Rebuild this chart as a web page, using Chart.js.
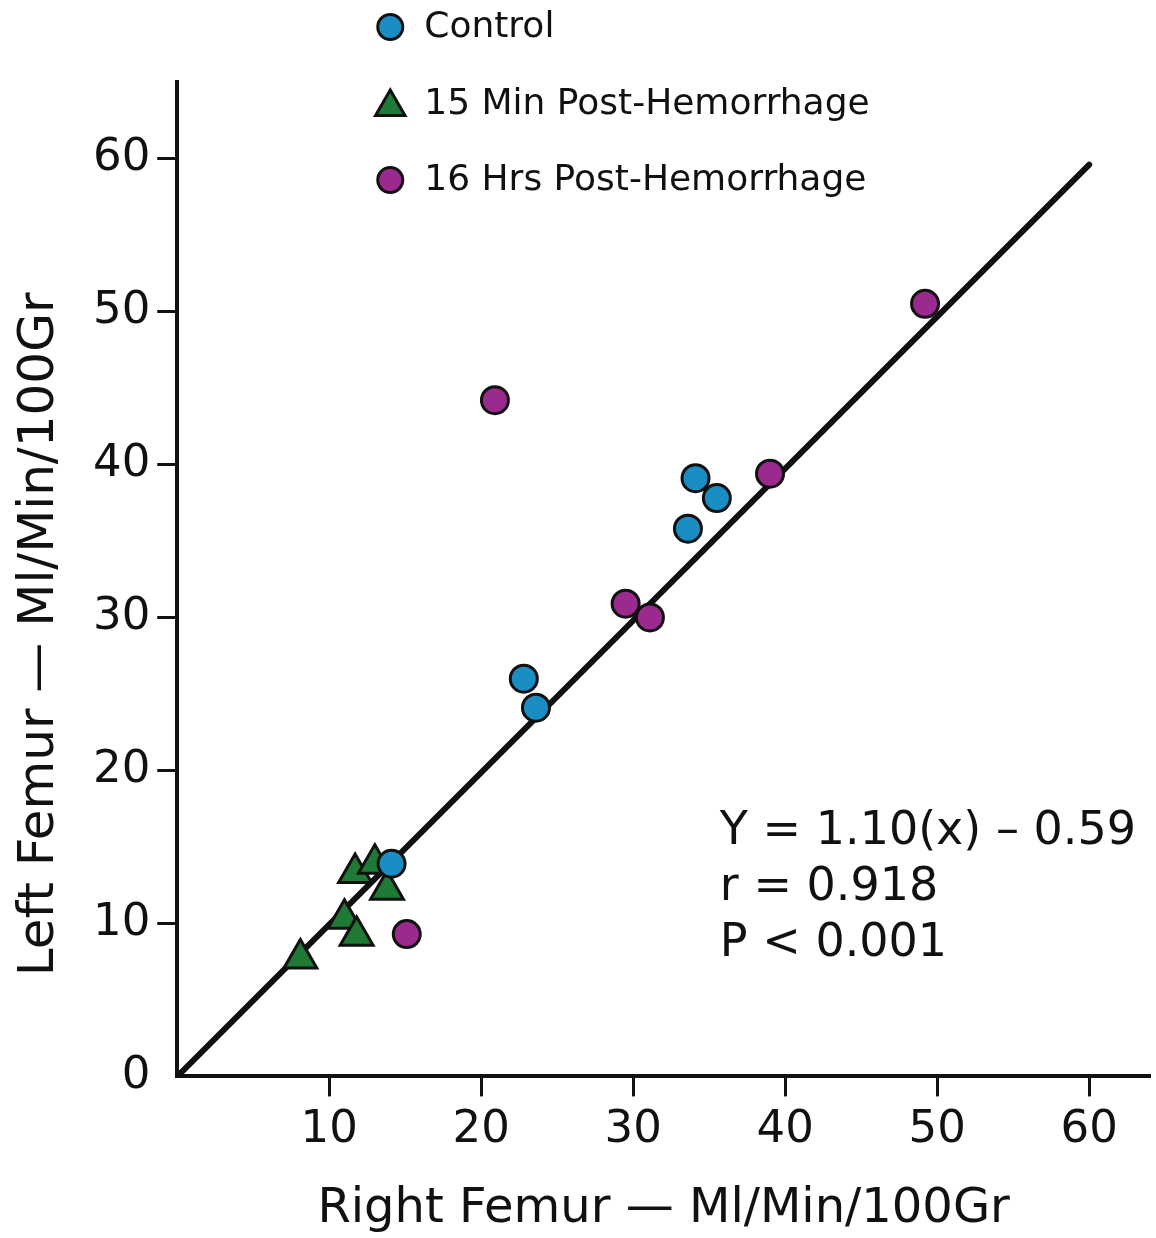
<!DOCTYPE html>
<html>
<head>
<meta charset="utf-8">
<script src="https://cdn.jsdelivr.net/npm/chart.js@4.4.1/dist/chart.umd.min.js"></script>
<style>
  html, body { margin: 0; padding: 0; background: #fff; }
  #wrap { width: 1156px; height: 1238px; }
</style>
</head>
<body>
<div id="wrap"><canvas id="femur" width="1156" height="1238"></canvas></div>
<script>
// values (Right femur, Left femur) in Ml/Min/100Gr
const controlX = [14.1, 22.8, 23.6, 33.6, 34.1, 35.5];
const controlY = [13.9, 26.0, 24.1, 35.8, 39.1, 37.8];

const min15X = [11.7, 13.0, 13.8, 11.0, 11.8, 8.1];
const min15Y = [13.3, 13.9, 12.2, 10.3, 9.2, 7.7];

const hrs16X = [20.9, 49.2, 39.0, 29.5, 31.1, 15.1];
const hrs16Y = [44.2, 50.5, 39.4, 30.9, 30.0, 9.3];

const fitX = [0, 60];
const fitY = [0, 59.6];

const xTicks = [10, 20, 30, 40, 50, 60];
const yTicks = [0, 10, 20, 30, 40, 50, 60];

const seriesNames = ['Control', '15 Min Post-Hemorrhage', '16 Hrs Post-Hemorrhage'];
const xTitle = 'Right Femur \u2014 Ml/Min/100Gr';
const yTitle = 'Left Femur \u2014 Ml/Min/100Gr';
const statLines = ['Y = 1.10(x) \u2013 0.59', 'r = 0.918', 'P < 0.001'];
const statAnchor = { x: 35.7, y: 16.0 };

const BLUE = '#1a8ec3';
const GREEN = '#1f7a35';
const PURPLE = '#9b2a8e';
const INK = '#111';
const FONT = "'DejaVu Sans', sans-serif";

const toPoints = (xs, ys) => xs.map((x, i) => ({ x: x, y: ys[i] }));

Chart.defaults.font.family = FONT;
Chart.defaults.color = INK;

// hand-placed legend above the plot, like the original figure
const legendPlugin = {
  id: 'figLegend',
  afterDraw(chart) {
    const c = chart.ctx;
    const left = chart.chartArea.left;
    const top = chart.chartArea.top;
    const rows = [
      { name: seriesNames[0], color: BLUE, shape: 'circle', y: top - 55 },
      { name: seriesNames[1], color: GREEN, shape: 'triangle', y: top + 22 },
      { name: seriesNames[2], color: PURPLE, shape: 'circle', y: top + 98 }
    ];
    c.save();
    c.font = '36px ' + FONT;
    c.textBaseline = 'middle';
    rows.forEach(r => {
      const mx = left + 213;
      c.fillStyle = r.color;
      c.strokeStyle = INK;
      c.lineWidth = 3;
      c.beginPath();
      if (r.shape === 'circle') {
        c.arc(mx, r.y, 12.5, 0, Math.PI * 2);
      } else {
        const rad = 17;
        for (let k = 0; k < 3; k++) {
          const a = k * 2 * Math.PI / 3;
          const px = mx + Math.sin(a) * rad;
          const py = r.y + 3 - Math.cos(a) * rad;
          if (k === 0) c.moveTo(px, py); else c.lineTo(px, py);
        }
        c.closePath();
      }
      c.fill();
      c.stroke();
      c.fillStyle = INK;
      c.fillText(r.name, left + 247, r.y + 1);
    });
    c.restore();
  }
};

// regression statistics text inside the plot + the rotated y title
const statsPlugin = {
  id: 'stats',
  afterDatasetsDraw(chart) {
    const c = chart.ctx;
    const x = chart.scales.x.getPixelForValue(statAnchor.x);
    const y = chart.scales.y.getPixelForValue(statAnchor.y);
    c.save();
    c.font = '46px ' + FONT;
    c.fillStyle = INK;
    c.textBaseline = 'middle';
    statLines.forEach((t, i) => c.fillText(t, x, y + i * 56));
    c.restore();

    c.save();
    c.translate(40, chart.chartArea.bottom - 442);
    c.rotate(-Math.PI / 2);
    c.font = '50px ' + FONT;
    c.fillStyle = INK;
    c.textAlign = 'center';
    c.textBaseline = 'middle';
    c.fillText(yTitle, 0, 0);
    c.restore();
  }
};

new Chart(document.getElementById('femur'), {
  type: 'scatter',
  data: {
    datasets: [
      {
        label: seriesNames[0],
        data: toPoints(controlX, controlY),
        backgroundColor: BLUE,
        borderColor: INK,
        borderWidth: 3,
        pointRadius: 13.5,
        pointStyle: 'circle'
      },
      {
        label: seriesNames[2],
        data: toPoints(hrs16X, hrs16Y),
        backgroundColor: PURPLE,
        borderColor: INK,
        borderWidth: 3,
        pointRadius: 13.5,
        pointStyle: 'circle'
      },
      {
        label: seriesNames[1],
        data: toPoints(min15X, min15Y),
        backgroundColor: GREEN,
        borderColor: INK,
        borderWidth: 3,
        pointRadius: 19,
        pointStyle: 'triangle'
      },
      {
        label: 'fit',
        data: toPoints(fitX, fitY),
        showLine: true,
        borderColor: INK,
        borderWidth: 6,
        borderCapStyle: 'round',
        pointRadius: 0,
        fill: false
      }
    ]
  },
  options: {
    responsive: false,
    animation: false,
    layout: { autoPadding: false, padding: { top: 82, right: 6, bottom: 0, left: 86 } },
    plugins: {
      legend: { display: false },
      tooltip: { enabled: false }
    },
    scales: {
      x: {
        type: 'linear',
        min: 0,
        max: 64,
        afterBuildTicks: s => { s.ticks = xTicks.map(v => ({ value: v })); },
        afterFit: s => { s.paddingRight = 0; },
        grid: { drawOnChartArea: false, drawTicks: true, tickLength: 20, tickWidth: 3, tickColor: INK },
        border: { display: true, color: INK, width: 4 },
        ticks: { font: { size: 45 }, color: INK, padding: 7, maxRotation: 0 },
        title: {
          display: true,
          text: xTitle,
          font: { size: 48 },
          color: INK,
          padding: { top: 16, bottom: 0 }
        }
      },
      y: {
        type: 'linear',
        min: 0,
        max: 65,
        afterBuildTicks: s => { s.ticks = yTicks.map(v => ({ value: v })); },
        grid: {
          drawOnChartArea: false, drawTicks: true, tickLength: 20, tickWidth: 3,
          tickColor: ctx => (ctx.tick && ctx.tick.value === 0 ? 'rgba(0,0,0,0)' : INK)
        },
        border: { display: true, color: INK, width: 4 },
        ticks: { font: { size: 45 }, color: INK, padding: 7 },
        title: { display: false }
      }
    }
  },
  plugins: [statsPlugin, legendPlugin]
});
</script>
</body>
</html>
